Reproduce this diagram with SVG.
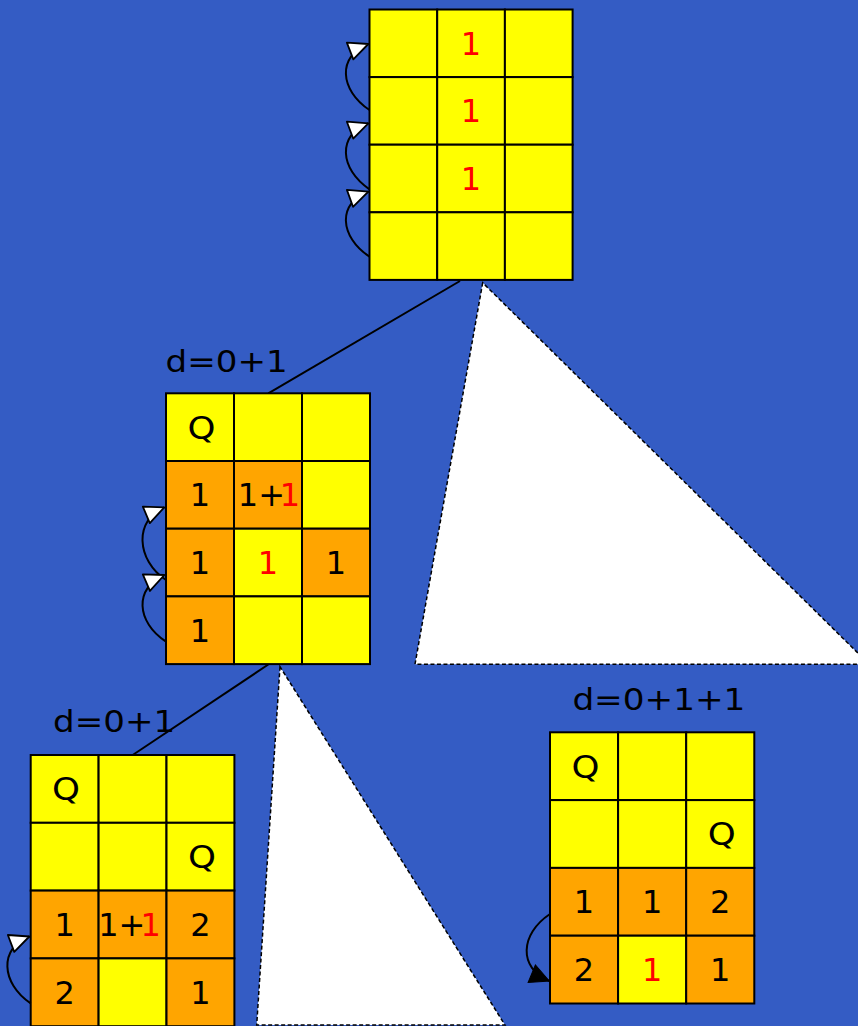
<svg xmlns="http://www.w3.org/2000/svg" width="858" height="1026" viewBox="0 0 858 1026">
<style>
.bg{fill:#345cc4}
.y{fill:#ffff00;stroke:#000;stroke-width:2}
.o{fill:#ffa500;stroke:#000;stroke-width:2}
text{font-family:"DejaVu Sans","Liberation Sans",sans-serif;font-size:32px;fill:#000}
.c{text-anchor:middle}
.r{fill:#ff0000}
.lbl{font-size:30px}
.edge{stroke:#000;stroke-width:2;fill:none}
.arc{stroke:#000;stroke-width:2;fill:none}
.tri{fill:#fff;stroke:#000;stroke-width:1.5;stroke-dasharray:4,2.5}
</style>
<defs>
<marker id="wa" markerUnits="userSpaceOnUse" markerWidth="26" markerHeight="24" viewBox="-22 -12 26 24" refX="0" refY="0" orient="auto">
<path d="M0,0 L-19.5,-9 L-19.5,9 Z" fill="#fff" stroke="#000" stroke-width="1.8" stroke-linejoin="round"/>
</marker>
<marker id="ba" markerUnits="userSpaceOnUse" markerWidth="26" markerHeight="24" viewBox="-22 -12 26 24" refX="0" refY="0" orient="auto">
<path d="M0,0 L-19,-9.5 L-19,9.5 Z" fill="#000" stroke="#000" stroke-width="1"/>
</marker>
</defs>
<rect class="bg" x="0" y="0" width="858" height="1026"/>

<g id="connectors">
<polygon class="tri" points="482.7,282.7 415,664.3 869.3,664.3"/>
<polygon class="tri" points="280,666.7 256.7,1025 505,1025"/>
<line class="edge" x1="460" y1="281" x2="268.3" y2="393.3"/>
<line class="edge" x1="268.3" y1="664.5" x2="132.7" y2="755"/>
</g>

<g id="node-top">
<rect class="y" x="369.5" y="9.5" width="67.7" height="67.6"/>
<rect class="y" x="437.2" y="9.5" width="67.7" height="67.6"/>
<rect class="y" x="504.9" y="9.5" width="67.7" height="67.6"/>
<rect class="y" x="369.5" y="77.1" width="67.7" height="67.6"/>
<rect class="y" x="437.2" y="77.1" width="67.7" height="67.6"/>
<rect class="y" x="504.9" y="77.1" width="67.7" height="67.6"/>
<rect class="y" x="369.5" y="144.7" width="67.7" height="67.6"/>
<rect class="y" x="437.2" y="144.7" width="67.7" height="67.6"/>
<rect class="y" x="504.9" y="144.7" width="67.7" height="67.6"/>
<rect class="y" x="369.5" y="212.3" width="67.7" height="67.6"/>
<rect class="y" x="437.2" y="212.3" width="67.7" height="67.6"/>
<rect class="y" x="504.9" y="212.3" width="67.7" height="67.6"/>
<text class="c r" x="471" y="54.8">1</text>
<text class="c r" x="471" y="122.4">1</text>
<text class="c r" x="471" y="190">1</text>
<path class="arc" d="M369.5,110 C339.5,90 337,56 368.3,44" marker-end="url(#wa)"/>
<path class="arc" d="M369.5,189.3 C339.5,169 337,135 368.3,123.3" marker-end="url(#wa)"/>
<path class="arc" d="M369.5,256.7 C339.5,237 337,203 368.3,191.7" marker-end="url(#wa)"/>
</g>

<g id="node-mid">
<text class="lbl" x="165.6" y="372" textLength="122" lengthAdjust="spacingAndGlyphs">d=0+1</text>
<rect class="y" x="166" y="393.3" width="68" height="67.7"/>
<rect class="y" x="234" y="393.3" width="68" height="67.7"/>
<rect class="y" x="302" y="393.3" width="68" height="67.7"/>
<rect class="o" x="166" y="461" width="68" height="67.7"/>
<rect class="o" x="234" y="461" width="68" height="67.7"/>
<rect class="y" x="302" y="461" width="68" height="67.7"/>
<rect class="o" x="166" y="528.7" width="68" height="67.7"/>
<rect class="y" x="234" y="528.7" width="68" height="67.7"/>
<rect class="o" x="302" y="528.7" width="68" height="67.7"/>
<rect class="o" x="166" y="596.4" width="68" height="67.7"/>
<rect class="y" x="234" y="596.4" width="68" height="67.7"/>
<rect class="y" x="302" y="596.4" width="68" height="67.7"/>
<text class="c" x="201.5" y="438.6" textLength="28" lengthAdjust="spacingAndGlyphs">Q</text>
<text class="c" x="200" y="506.3">1</text>
<text x="237.8" y="506.3">1+<tspan class="r" dx="-5.2">1</tspan></text>
<text class="c" x="200" y="574">1</text>
<text class="c r" x="268" y="574">1</text>
<text class="c" x="336" y="574">1</text>
<text class="c" x="200" y="641.7">1</text>
<path class="arc" d="M166,580 C136,560 134,520 164.3,507.3" marker-end="url(#wa)"/>
<path class="arc" d="M166,641.7 C136,622 134,588 164.3,575" marker-end="url(#wa)"/>
</g>

<g id="node-left">
<text class="lbl" x="53.1" y="732.3" textLength="122" lengthAdjust="spacingAndGlyphs">d=0+1</text>
<rect class="y" x="30.7" y="755" width="67.9" height="67.8"/>
<rect class="y" x="98.6" y="755" width="67.9" height="67.8"/>
<rect class="y" x="166.5" y="755" width="67.9" height="67.8"/>
<rect class="y" x="30.7" y="822.8" width="67.9" height="67.8"/>
<rect class="y" x="98.6" y="822.8" width="67.9" height="67.8"/>
<rect class="y" x="166.5" y="822.8" width="67.9" height="67.8"/>
<rect class="o" x="30.7" y="890.6" width="67.9" height="67.8"/>
<rect class="o" x="98.6" y="890.6" width="67.9" height="67.8"/>
<rect class="o" x="166.5" y="890.6" width="67.9" height="67.8"/>
<rect class="o" x="30.7" y="958.4" width="67.9" height="67.8"/>
<rect class="y" x="98.6" y="958.4" width="67.9" height="67.8"/>
<rect class="o" x="166.5" y="958.4" width="67.9" height="67.8"/>
<text class="c" x="66" y="800.4" textLength="28" lengthAdjust="spacingAndGlyphs">Q</text>
<text class="c" x="202" y="868.2" textLength="28" lengthAdjust="spacingAndGlyphs">Q</text>
<text class="c" x="64.6" y="936">1</text>
<text x="98.2" y="936">1+<tspan class="r" dx="-4.9">1</tspan></text>
<text class="c" x="200.4" y="936">2</text>
<text class="c" x="64.6" y="1003.8">2</text>
<text class="c" x="200.4" y="1003.8">1</text>
<path class="arc" d="M30.7,1003.3 C0.7,983 -1,948 29.3,936.5" marker-end="url(#wa)"/>
</g>

<g id="node-right">
<text class="lbl" x="572.4" y="710" textLength="173" lengthAdjust="spacingAndGlyphs">d=0+1+1</text>
<rect class="y" x="550" y="732.3" width="68.1" height="67.8"/>
<rect class="y" x="618.1" y="732.3" width="68.1" height="67.8"/>
<rect class="y" x="686.2" y="732.3" width="68.1" height="67.8"/>
<rect class="y" x="550" y="800.1" width="68.1" height="67.8"/>
<rect class="y" x="618.1" y="800.1" width="68.1" height="67.8"/>
<rect class="y" x="686.2" y="800.1" width="68.1" height="67.8"/>
<rect class="o" x="550" y="867.9" width="68.1" height="67.8"/>
<rect class="o" x="618.1" y="867.9" width="68.1" height="67.8"/>
<rect class="o" x="686.2" y="867.9" width="68.1" height="67.8"/>
<rect class="o" x="550" y="935.7" width="68.1" height="67.8"/>
<rect class="y" x="618.1" y="935.7" width="68.1" height="67.8"/>
<rect class="o" x="686.2" y="935.7" width="68.1" height="67.8"/>
<text class="c" x="585.5" y="777.7" textLength="28" lengthAdjust="spacingAndGlyphs">Q</text>
<text class="c" x="721.7" y="845.4" textLength="28" lengthAdjust="spacingAndGlyphs">Q</text>
<text class="c" x="584" y="913.2">1</text>
<text class="c" x="652.1" y="913.2">1</text>
<text class="c" x="720.2" y="913.2">2</text>
<text class="c" x="584" y="981">2</text>
<text class="c r" x="652.1" y="981">1</text>
<text class="c" x="720.2" y="981">1</text>
<path class="arc" d="M550,914 C520,934 518,968 549.3,981" marker-end="url(#ba)"/>
</g>
</svg>
